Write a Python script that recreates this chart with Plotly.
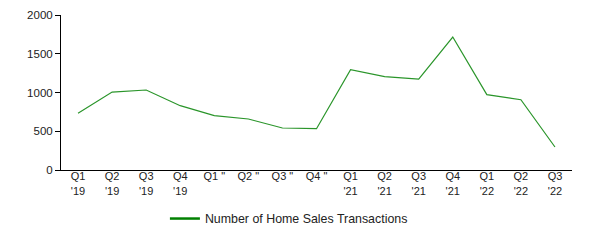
import plotly.graph_objects as go

categories = ["Q1<br>'19", "Q2<br>'19", "Q3<br>'19", "Q4<br>'19",
              "Q1 \"", "Q2 \"", "Q3 \"", "Q4 \"",
              "Q1<br>'21", "Q2<br>'21", "Q3<br>'21", "Q4<br>'21",
              "Q1<br>'22", "Q2<br>'22", "Q3<br>'22"]
values = [731, 1006, 1032, 830, 701, 658, 542, 533, 1294, 1204, 1174, 1716, 972, 907, 297]
series_name = "Number of Home Sales Transactions"

fig = go.Figure()
fig.add_trace(go.Scatter(x=list(range(len(categories))), y=values, mode="lines",
                         name=series_name, showlegend=False, legendgroup="s",
                         line=dict(color="#2a952a", width=1.2)))
fig.add_trace(go.Scatter(x=[None], y=[None], mode="lines", name=series_name,
                         legendgroup="s", line=dict(color="#008000", width=2.5)))
fig.update_layout(
    width=590, height=240,
    margin=dict(l=61, r=18, t=15, b=70, autoexpand=False),
    paper_bgcolor="white", plot_bgcolor="white",
    font=dict(family="Liberation Sans, Arial, sans-serif", size=11, color="#222"),
    showlegend=True,
    legend=dict(orientation="h", x=0.446, xanchor="center", y=-0.316, yanchor="middle",
                font=dict(size=12.4, color="#222")),
)
fig.update_xaxes(tickmode="array", tickvals=list(range(len(categories))), ticktext=categories,
                 range=[-0.5, 14.5], showline=True, linecolor="black", linewidth=1,
                 showgrid=False, zeroline=False, ticks="", tickangle=0, automargin=False,
                 tickfont=dict(size=11), ticklabelstandoff=-4)
fig.update_yaxes(range=[0, 2000], tickvals=[0, 500, 1000, 1500, 2000],
                 showline=True, linecolor="black", linewidth=1, ticks="outside",
                 ticklen=5, tickcolor="black", showgrid=False, zeroline=False, automargin=False,
                 tickfont=dict(size=11.5))
fig.write_html("out.html")
